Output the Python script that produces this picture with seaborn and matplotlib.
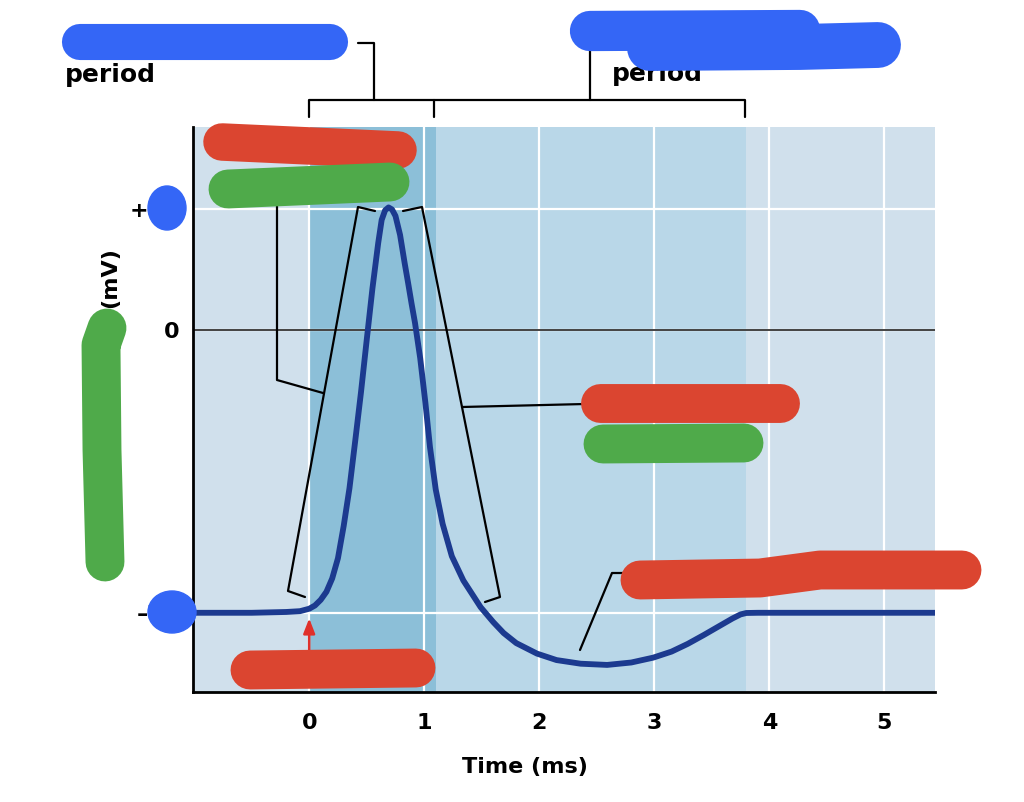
import matplotlib
matplotlib.use('Agg')
import matplotlib.pyplot as plt
from matplotlib.lines import Line2D
from matplotlib.patches import Ellipse
import pandas as pd
import seaborn as sns

# membrane potential trace
time_ms = [-1.01, -0.5, -0.2, -0.08, 0.0, 0.05, 0.1, 0.15, 0.2, 0.25, 0.3, 0.35,
           0.4, 0.45, 0.5, 0.55, 0.6, 0.63, 0.66, 0.69, 0.72, 0.75, 0.79, 0.83,
           0.86, 0.89, 0.92, 0.965, 1.01, 1.05, 1.10, 1.16, 1.24, 1.34, 1.49, 1.6,
           1.69, 1.8, 1.98, 2.15, 2.36, 2.59, 2.8, 2.99, 3.15, 3.29, 3.43, 3.57,
           3.68, 3.75, 3.8, 3.9, 5.44]
potential_mv = [-70, -70, -69.8, -69.6, -69, -68.2, -66.8, -64.8, -61.5, -56.5, -48.5, -39.2,
                -27.5, -15.5, -2.5, 10.3, 21.5, 27.2, 29.6, 30.3, 29.8, 28.2, 23.5, 16.5,
                11.6, 6.5, 1.7, -7, -18, -29, -39.5, -48, -56, -62, -68.6, -72.3,
                -75, -77.5, -80.1, -81.7, -82.6, -82.9, -82.3, -81.1, -79.6, -77.7, -75.5, -73.2,
                -71.4, -70.4, -70.05, -70, -70]

x_ticks = [0, 1, 2, 3, 4, 5]
y_ticks = [-70, 0, 30]
y_tick_labels = ['\u201370', '0', '+30']

# shaded periods (ms)
absolute_period = (0.0, 1.1)
relative_period = (1.1, 3.8)

W, H = 1024, 802

# marker scribbles over the original labels (image pixels)
scribbles = [
    ('#3466f6', 26, [(80, 42), (330, 42)]),
    ('#3466f6', 29, [(590, 31), (800, 30)]),
    ('#3466f6', 33, [(650, 48), (800, 47), (878, 45)]),
    ('#db4530', 27, [(222, 142), (398, 150)]),
    ('#4faa4a', 28, [(228, 189), (390, 182)]),
    ('#4faa4a', 28, [(107, 328), (101, 345), (102, 450), (105, 562)]),
    ('#db4530', 28, [(600, 403), (780, 403)]),
    ('#4faa4a', 28, [(603, 444), (744, 443)]),
    ('#db4530', 28, [(640, 580), (760, 578), (820, 570), (962, 570)]),
    ('#db4530', 28, [(250, 670), (416, 668)]),
]
blue_dots = [(167, 208, 38, 44), (172, 612, 48, 42)]

# leader lines and brackets (image pixels)
leaders = [
    [(358, 43), (374, 43), (374, 100)],
    [(309, 117), (309, 100), (745, 100), (745, 117)],
    [(434, 100), (434, 117)],
    [(590, 50), (590, 100)],
    [(305, 597), (288, 591), (358, 207), (375, 211)],
    [(403, 211), (422, 207), (500, 597), (485, 602)],
    [(277, 170), (277, 380), (323, 393)],
    [(462, 407), (585, 404)],
    [(580, 650), (612, 573), (625, 573)],
]

sns.set_style('white')
plt.rcParams['font.family'] = ['DejaVu Sans']
plt.rcParams['font.weight'] = 'bold'

df = pd.DataFrame({'t': time_ms, 'v': potential_mv})

fig = plt.figure(figsize=(W / 100, H / 100), dpi=100)
ax = fig.add_axes([193 / W, 110 / H, 742 / W, 565 / H])
ax.set_facecolor('#d0e0ec')

ax.axvspan(*absolute_period, color='#8cbfd8', lw=0, zorder=0)
ax.axvspan(*relative_period, color='#b9d7e8', lw=0, zorder=0)

ax.set_xticks(x_ticks)
ax.set_yticks(y_ticks, y_tick_labels)
ax.grid(True, color='white', lw=1.6, zorder=1)
ax.set_axisbelow(True)
ax.axhline(0, color='#222222', lw=1.2, zorder=2)

sns.lineplot(data=df, x='t', y='v', ax=ax, color='#1c3a8f', lw=4.2,
             legend=False, zorder=4, solid_joinstyle='round')

ax.annotate('', xy=(0, -70.7), xytext=(0, -80),
            arrowprops=dict(arrowstyle='-|>,head_width=0.35,head_length=0.9',
                            color='#e0302a', lw=1.8), zorder=3)

ax.set_xlim(-1.01, 5.44)
ax.set_ylim(-89.6, 50.2)
ax.set_xlabel('')
ax.set_ylabel('')
for s in ['top', 'right']:
    ax.spines[s].set_visible(False)
for s in ['left', 'bottom']:
    ax.spines[s].set_color('black')
    ax.spines[s].set_linewidth(2)
ax.tick_params(axis='both', length=0, labelsize=16, colors='black')
ax.tick_params(axis='x', pad=15)
ax.tick_params(axis='y', pad=10)

fig.text(525 / W, 1 - 767 / H, 'Time (ms)', ha='center', va='center',
         fontsize=16, fontweight='bold', color='black')
fig.text(110 / W, 1 - 278 / H, '(mV)', ha='center', va='center', rotation=90,
         fontsize=16, fontweight='bold', color='black')
fig.text(65 / W, 1 - 75 / H, 'period', ha='left', va='center',
         fontsize=18, fontweight='bold', color='black')
fig.text(612 / W, 1 - 74 / H, 'period', ha='left', va='center',
         fontsize=18, fontweight='bold', color='black')


def fig_line(points, **kw):
    xs = [p[0] / W for p in points]
    ys = [1 - p[1] / H for p in points]
    fig.add_artist(Line2D(xs, ys, transform=fig.transFigure, **kw))


for pts in leaders:
    fig_line(pts, color='black', lw=1.6, zorder=5)

for color, width, pts in scribbles:
    fig_line(pts, color=color, lw=width, solid_capstyle='round',
             solid_joinstyle='round', zorder=10)

for x, y, w, h in blue_dots:
    fig.add_artist(Ellipse((x / W, 1 - y / H), w / W, h / H,
                           transform=fig.transFigure, color='#3466f6', zorder=10))

fig.savefig('out.png', dpi=100)
